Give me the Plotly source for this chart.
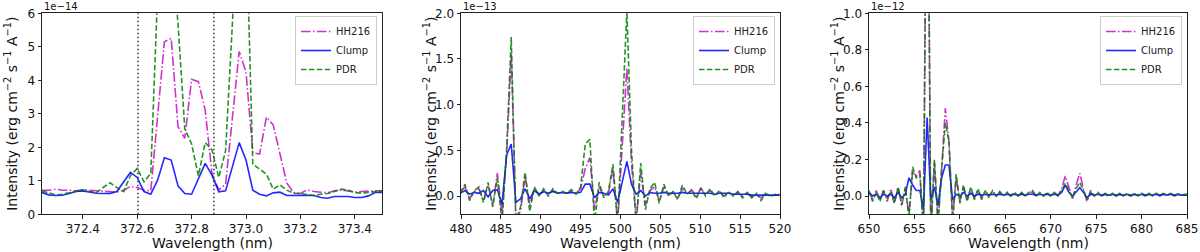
import plotly.graph_objects as go

# ---------------- data (intensities in units of 1e-14, 1e-13, 1e-12) ----------------
wl1 = [372.250, 372.275, 372.300, 372.325, 372.350, 372.375, 372.400, 372.425, 372.450, 372.475,
       372.500, 372.525, 372.550, 372.575, 372.600, 372.625, 372.650, 372.675, 372.700, 372.725,
       372.750, 372.775, 372.800, 372.825, 372.850, 372.875, 372.900, 372.925, 372.950, 372.975,
       373.000, 373.025, 373.050, 373.075, 373.100, 373.125, 373.150, 373.175, 373.200, 373.225,
       373.250, 373.275, 373.300, 373.325, 373.350, 373.375, 373.400, 373.425, 373.450, 373.475,
       373.500]
hh216_1 = [0.72, 0.72, 0.75, 0.72, 0.72, 0.70, 0.73, 0.72, 0.70, 0.68,
           0.68, 0.66, 0.72, 0.83, 0.80, 0.72, 0.70, 3.00, 5.15, 5.25,
           2.62, 2.27, 4.03, 3.96, 3.11, 1.20, 0.73, 0.90, 2.80, 4.86,
           4.25, 1.84, 1.80, 2.90, 2.67, 1.82, 0.93, 0.65, 0.62, 0.73,
           0.68, 0.66, 0.64, 0.70, 0.73, 0.70, 0.66, 0.68, 0.70, 0.70,
           0.70]
clump_1 = [0.65, 0.58, 0.56, 0.57, 0.62, 0.68, 0.70, 0.66, 0.63, 0.62,
           0.62, 0.68, 0.98, 1.25, 1.10, 0.68, 0.60, 1.02, 1.69, 1.62,
           0.85, 0.62, 0.60, 1.05, 1.52, 1.17, 0.67, 0.70, 1.42, 2.14,
           1.62, 0.72, 0.60, 0.55, 0.64, 0.66, 0.56, 0.57, 0.58, 0.57,
           0.56, 0.50, 0.48, 0.53, 0.53, 0.53, 0.50, 0.50, 0.55, 0.65,
           0.65]
pdr_1 = [0.70, 0.63, 0.58, 0.60, 0.65, 0.70, 0.73, 0.68, 0.65, 0.80,
         0.94, 0.80, 0.68, 1.15, 1.37, 0.97, 1.22, 6.60, 9.00, 8.00,
         5.70, 2.55, 2.10, 1.15, 2.14, 1.92, 1.10, 1.90, 5.80, 9.50,
         8.90, 1.50, 1.35, 1.20, 0.75, 0.88, 0.72, 0.63, 0.62, 0.58,
         0.56, 0.60, 0.62, 0.68, 0.75, 0.72, 0.65, 0.63, 0.65, 0.68,
         0.70]
oii_lines = [372.603, 372.882]

wl2 = [479.92, 480.50, 481.08, 481.66, 482.24, 482.82, 483.40, 483.98, 484.56, 485.14,
       485.72, 486.30, 486.88, 487.46, 488.04, 488.62, 489.20, 489.78, 490.36, 490.94,
       491.52, 492.10, 492.68, 493.26, 493.84, 494.42, 495.00, 495.58, 496.16, 496.74,
       497.32, 497.90, 498.48, 499.06, 499.64, 500.22, 500.80, 501.38, 501.96, 502.54,
       503.12, 503.70, 504.28, 504.86, 505.44, 506.02, 506.60, 507.18, 507.76, 508.34,
       508.92, 509.50, 510.08, 510.66, 511.24, 511.82, 512.40, 512.98, 513.56, 514.14,
       514.72, 515.30, 515.88, 516.46, 517.04, 517.62, 518.20, 518.78, 519.36, 519.94]
hh216_2 = [0.05, 0.10, -0.03, 0.05, 0.08, -0.05, 0.12, -0.10, 0.25, -0.20,
           0.45, 1.56, -0.22, -0.17, 0.22, -0.10, 0.08, 0.02, 0.05, 0.02,
           0.06, 0.03, 0.04, 0.03, 0.05, 0.03, 0.08, 0.30, 0.42, -0.15,
           0.10, 0.00, 0.03, 0.30, -0.30, 0.60, 1.40, 0.35, -0.25, 0.25,
           -0.10, 0.06, 0.10, -0.05, 0.10, 0.01, 0.04, -0.02, 0.08, 0.02,
           0.07, 0.00, 0.08, 0.02, 0.06, 0.01, 0.05, 0.00, 0.04, 0.01,
           0.04, 0.00, 0.03, -0.01, 0.02, -0.02, 0.02, 0.00, 0.01, 0.01]
clump_2 = [0.03, 0.06, 0.02, 0.04, 0.03, 0.06, -0.01, 0.06, 0.07, -0.09,
           0.45, 0.57, -0.07, -0.03, 0.08, -0.03, 0.06, 0.02, 0.05, 0.03,
           0.05, 0.03, 0.04, 0.03, 0.04, 0.03, 0.04, 0.13, 0.13, -0.02,
           0.04, 0.03, 0.01, 0.08, -0.07, 0.15, 0.38, 0.13, 0.02, 0.06,
           0.00, 0.04, 0.03, 0.03, 0.04, 0.03, 0.03, 0.03, 0.04, 0.03,
           0.03, 0.03, 0.03, 0.03, 0.03, 0.02, 0.03, 0.03, 0.03, 0.02,
           0.02, 0.02, 0.02, 0.01, 0.01, 0.01, 0.01, 0.01, 0.01, 0.01]
pdr_2 = [0.03, 0.13, -0.05, 0.06, 0.10, -0.07, 0.15, -0.12, 0.20, -0.30,
         0.50, 1.74, -0.30, -0.12, 0.26, -0.17, 0.10, 0.00, 0.08, 0.00,
         0.08, 0.03, 0.05, 0.03, 0.07, 0.02, 0.10, 0.57, 0.62, -0.30,
         0.15, -0.02, 0.05, 0.35, -0.30, 0.90, 2.03, 0.50, -0.30, 0.36,
         -0.15, 0.08, 0.15, -0.08, 0.13, 0.00, 0.05, -0.04, 0.12, 0.02,
         0.06, -0.03, 0.09, 0.00, 0.08, 0.00, 0.06, -0.02, 0.05, 0.00,
         0.05, -0.02, 0.04, -0.02, 0.03, -0.05, 0.03, 0.00, 0.02, 0.02]

wl3 = [650.0, 650.4, 650.8, 651.2, 651.6, 652.0, 652.4, 652.8, 653.2, 653.6,
       654.0, 654.4, 654.8, 655.2, 655.6, 656.0, 656.4, 656.8, 657.2, 657.6,
       658.0, 658.4, 658.8, 659.2, 659.6, 660.0, 660.4, 660.8, 661.2, 661.6,
       662.0, 662.4, 662.8, 663.2, 663.6, 664.0, 664.4, 664.8, 665.2, 665.6,
       666.0, 666.4, 666.8, 667.2, 667.6, 668.0, 668.4, 668.8, 669.2, 669.6,
       670.0, 670.4, 670.8, 671.2, 671.6, 672.0, 672.4, 672.8, 673.2, 673.6,
       674.0, 674.4, 674.8, 675.2, 675.6, 676.0, 676.4, 676.8, 677.2, 677.6,
       678.0, 678.4, 678.8, 679.2, 679.6, 680.0, 680.4, 680.8, 681.2, 681.6,
       682.0, 682.4, 682.8, 683.2, 683.6, 684.0, 684.4, 684.8, 685.2]
hh216_3 = [0.02, -0.02, 0.03, -0.02, 0.03, -0.03, 0.04, -0.04, 0.05, -0.05,
           0.04, -0.10, 0.13, 0.11, 0.14, -0.20, 2.40, -0.20, 0.18, -0.15,
           0.15, 0.48, 0.30, -0.12, 0.10, -0.03, 0.05, -0.02, 0.04, -0.01,
           0.03, -0.01, 0.03, 0.00, 0.025, 0.00, 0.02, 0.00, 0.02, 0.00,
           0.02, 0.00, 0.015, 0.00, 0.02, 0.02, 0.00, 0.015, 0.00, 0.015,
           0.00, 0.02, 0.00, 0.04, 0.11, 0.04, -0.015, 0.06, 0.125, 0.04,
           -0.03, 0.02, 0.00, 0.015, 0.00, 0.01, 0.00, 0.01, 0.00, 0.01,
           0.00, 0.01, 0.00, 0.01, 0.00, 0.01, 0.00, 0.01, 0.005, 0.01,
           0.00, 0.01, 0.005, 0.01, 0.00, 0.01, 0.005, 0.01, 0.01]
clump_3 = [0.02, 0.00, 0.01, -0.01, 0.01, 0.00, 0.01, -0.01, 0.02, -0.01,
           0.01, 0.10, 0.06, 0.03, 0.03, -0.07, 0.43, -0.02, 0.05, -0.05,
           0.10, 0.17, 0.17, -0.02, 0.01, 0.00, 0.02, 0.00, 0.015, 0.00,
           0.01, 0.005, 0.01, 0.005, 0.01, 0.005, 0.01, 0.005, 0.01, 0.005,
           0.01, 0.005, 0.01, 0.005, 0.01, 0.01, 0.005, 0.01, 0.005, 0.01,
           0.005, 0.01, 0.005, 0.02, 0.06, 0.02, 0.00, 0.025, 0.045, 0.02,
           -0.01, 0.01, 0.005, 0.01, 0.005, 0.01, 0.005, 0.01, 0.005, 0.01,
           0.005, 0.01, 0.005, 0.01, 0.005, 0.01, 0.005, 0.01, 0.005, 0.01,
           0.005, 0.01, 0.005, 0.01, 0.005, 0.01, 0.005, 0.005, 0.005]
pdr_3 = [0.03, -0.03, 0.02, -0.03, 0.03, -0.01, 0.02, -0.04, 0.05, -0.05,
         0.05, -0.12, 0.16, 0.10, 0.12, -0.20, 2.50, -0.20, 0.20, -0.15,
         0.15, 0.40, 0.30, -0.15, 0.12, -0.04, 0.06, -0.03, 0.05, -0.02,
         0.04, -0.02, 0.03, -0.01, 0.03, 0.00, 0.025, 0.00, 0.02, 0.00,
         0.02, 0.00, 0.02, 0.00, 0.02, 0.03, 0.00, 0.02, 0.00, 0.02,
         0.00, 0.02, 0.00, 0.03, 0.07, 0.03, -0.01, 0.04, 0.075, 0.03,
         -0.02, 0.03, 0.00, 0.02, 0.00, 0.015, 0.00, 0.015, 0.00, 0.015,
         0.00, 0.015, 0.00, 0.015, 0.00, 0.015, 0.005, 0.015, 0.00, 0.015,
         0.005, 0.015, 0.005, 0.015, 0.005, 0.01, 0.005, 0.01, 0.01]

series_names = ["HH216", "Clump", "PDR"]
exponents = ["1e\u221214", "1e\u221213", "1e\u221212"]

# ---------------- styling ----------------
W, H = 1200, 252
FONT = "DejaVu Sans"
colors = {"HH216": "rgba(191,0,191,0.8)", "Clump": "rgba(0,0,255,0.85)", "PDR": "rgba(0,128,0,0.85)"}
dashes = {"HH216": "9.6px,2.4px,1.5px,2.4px", "Clump": "solid", "PDR": "5.5px,2.4px"}

# panel pixel boxes (left, right), common top/bottom
px_x = [(42, 382), (461, 780), (869, 1187)]
top_px, bot_px = 13.3, 214.3
ydom = [1 - bot_px / H, 1 - top_px / H]

fig = go.Figure()

panels = [
    (wl1, [hh216_1, clump_1, pdr_1], [372.25, 373.5], [0, 6],
     [372.4, 372.6, 372.8, 373.0, 373.2, 373.4], ".1f", [0, 1, 2, 3, 4, 5, 6], "d"),
    (wl2, [hh216_2, clump_2, pdr_2], [480, 520], [-0.2, 2.0],
     [480, 485, 490, 495, 500, 505, 510, 515, 520], "d", [0.0, 0.5, 1.0, 1.5, 2.0], ".1f"),
    (wl3, [hh216_3, clump_3, pdr_3], [650, 685], [-0.1, 1.0],
     [650, 655, 660, 665, 670, 675, 680, 685], "d", [0.0, 0.2, 0.4, 0.6, 0.8, 1.0], ".1f"),
]

for i, (wl, ys, xr, yr, xt, xfmt, yt, yfmt) in enumerate(panels):
    n = "" if i == 0 else str(i + 1)
    leg = "legend" if i == 0 else "legend" + str(i + 1)
    for name, y in zip(series_names, ys):
        fig.add_trace(go.Scatter(
            x=wl, y=y, mode="lines", name=name,
            line=dict(color=colors[name], width=1.6, dash=dashes[name]),
            xaxis="x" + n, yaxis="y" + n, legend=leg, showlegend=True,
        ))
    l, r = px_x[i]
    axis_common = dict(showline=True, linecolor="#222", linewidth=1, mirror=True,
                       ticks="outside", ticklen=3.5, tickwidth=1, tickcolor="#222",
                       showgrid=False, zeroline=False, automargin=False,
                       tickfont=dict(family=FONT, size=12, color="#111"))
    fig.update_layout(**{
        "xaxis" + n: dict(domain=[l / W, r / W], range=xr, anchor="y" + n,
                          tickvals=xt, tickformat=xfmt, **axis_common),
        "yaxis" + n: dict(domain=ydom, range=yr, anchor="x" + n,
                          tickvals=yt, tickformat=yfmt, **axis_common),
        leg: dict(x=(r - 5) / W, y=1 - 16 / H, xanchor="right", yanchor="top",
                  xref="paper", yref="paper",
                  bgcolor="rgba(255,255,255,0.85)", bordercolor="#cccccc", borderwidth=1,
                  font=dict(family=FONT, size=10, color="#222"),
                  tracegroupgap=0, itemwidth=30),
    })
    # y title
    fig.add_annotation(text="Intensity (erg cm<sup>\u22122</sup> s<sup>\u22121</sup> A<sup>\u22121</sup>)",
                       x=(l - 31) / W, y=1 - ((top_px + bot_px) / 2) / H,
                       xref="paper", yref="paper", textangle=-90, showarrow=False,
                       font=dict(family=FONT, size=14, color="#111"),
                       xanchor="center", yanchor="middle")
    # x title
    fig.add_annotation(text="Wavelength (nm)", x=(l + r) / 2 / W, y=1 - 243 / H,
                       xref="paper", yref="paper", showarrow=False,
                       font=dict(family=FONT, size=14, color="#111"),
                       xanchor="center", yanchor="middle")
    # offset (exponent) text
    fig.add_annotation(text=exponents[i], x=l / W, y=1 - 6.5 / H,
                       xref="paper", yref="paper", showarrow=False,
                       font=dict(family=FONT, size=10, color="#111"),
                       xanchor="left", yanchor="middle")

for xv in oii_lines:
    fig.add_shape(type="line", x0=xv, x1=xv, xref="x", y0=0, y1=1, yref="y domain",
                  line=dict(color="#333", width=1.5, dash="1.5px,2.5px"))

fig.update_layout(width=W, height=H, margin=dict(l=0, r=0, t=0, b=0, autoexpand=False),
                  paper_bgcolor="white", plot_bgcolor="white",
                  font=dict(family=FONT))

fig.write_html("out.html", config={"displayModeBar": False},
               post_script="document.body.style.margin='0';document.body.style.overflow='hidden';")
